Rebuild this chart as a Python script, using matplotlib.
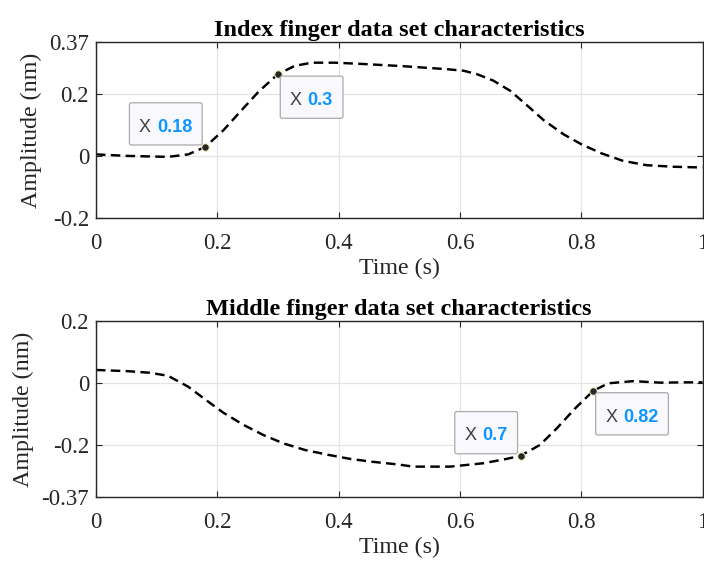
import matplotlib
matplotlib.use("Agg")
import matplotlib.pyplot as plt
from matplotlib.transforms import IdentityTransform
from matplotlib.patches import FancyBboxPatch

# ---------------- data ----------------
t_index = [0.000, 0.053, 0.119, 0.152, 0.180, 0.210, 0.240, 0.268, 0.300, 0.328,
           0.356, 0.394, 0.438, 0.504, 0.578, 0.606, 0.628, 0.655, 0.683, 0.710,
           0.738, 0.771, 0.801, 0.834, 0.869, 0.908, 0.952, 0.990, 1.000]
a_index = [0.006, 0.001, -0.002, 0.006, 0.030, 0.084, 0.149, 0.209, 0.266, 0.293,
           0.303, 0.303, 0.299, 0.292, 0.282, 0.277, 0.266, 0.245, 0.212, 0.166,
           0.117, 0.071, 0.038, 0.009, -0.015, -0.029, -0.034, -0.036, -0.036]

t_middle = [0.000, 0.053, 0.089, 0.119, 0.152, 0.180, 0.210, 0.243, 0.276, 0.309,
            0.344, 0.383, 0.419, 0.454, 0.498, 0.523, 0.584, 0.639, 0.677, 0.700,
            0.732, 0.760, 0.790, 0.820, 0.845, 0.886, 0.930, 0.968, 1.000]
a_middle = [0.041, 0.037, 0.032, 0.022, -0.013, -0.054, -0.097, -0.136, -0.169, -0.196,
            -0.217, -0.233, -0.246, -0.255, -0.264, -0.271, -0.271, -0.260, -0.246, -0.236,
            -0.201, -0.147, -0.083, -0.026, -0.002, 0.005, 0.000, 0.001, 0.001]

tips_index_x = [0.18, 0.30]
tips_index_y = [0.030, 0.266]
tips_index_lbl = ["0.18", "0.3"]
tips_index_side = ["left", "right"]

tips_middle_x = [0.70, 0.82]
tips_middle_y = [-0.236, -0.026]
tips_middle_lbl = ["0.7", "0.82"]
tips_middle_side = ["left", "right"]

xticks = [0, 0.2, 0.4, 0.6, 0.8, 1.0]
xtick_labels = ["0", "0.2", "0.4", "0.6", "0.8", "1"]
yticks_index = [-0.2, 0, 0.2, 0.37]
ytick_labels_index = ["-0.2", "0", "0.2", "0.37"]
yticks_middle = [-0.37, -0.2, 0, 0.2]
ytick_labels_middle = ["-0.37", "-0.2", "0", "0.2"]

titles = ["Index finger data set characteristics", "Middle finger data set characteristics"]
xlabel = "Time (s)"
ylabel = "Amplitude (nm)"

# ---------------- style ----------------
plt.rcParams['font.family'] = ['Liberation Serif', 'DejaVu Serif']
TICKFS = 16.5
LBLFS = 17.3
TFS = 17.5
AXC = '#262626'
TIPFONT = ['Liberation Sans', 'DejaVu Sans']
TIPFS = 13

W, H = 704, 561
fig = plt.figure(figsize=(W / 100, H / 100), dpi=100)
ax1 = fig.add_axes([96 / W, 1 - 218 / H, 606.5 / W, 176 / H])
ax2 = fig.add_axes([96 / W, 1 - 497.3 / H, 606.5 / W, 176.6 / H])


def style(ax, yt, ytl, ylim, title, ylab_x):
    ax.set_xlim(0, 1)
    ax.set_ylim(*ylim)
    ax.set_xticks(xticks)
    ax.set_xticklabels(xtick_labels)
    ax.set_yticks(yt)
    ax.set_yticklabels(ytl)
    ax.tick_params(direction='in', length=4.5, width=0.8, color=AXC,
                   top=True, right=True, labelsize=TICKFS, labelcolor=AXC)
    ax.tick_params(axis='x', pad=10.5)
    ax.tick_params(axis='y', pad=5)
    for s in ax.spines.values():
        s.set_color(AXC)
        s.set_linewidth(1.0)
    ax.grid(True, color='#e4e4e4', linewidth=0.9)
    ax.set_axisbelow(True)
    ax.set_xlabel(xlabel, fontsize=LBLFS, color=AXC, labelpad=3)
    ax.set_ylabel(ylabel, fontsize=LBLFS, color=AXC)
    ax.yaxis.set_label_coords(ylab_x, 0.5)
    ax.set_title(title, fontsize=TFS, fontweight='bold', pad=4)


style(ax1, yticks_index, ytick_labels_index, (-0.2, 0.37), titles[0], -0.089)
style(ax2, yticks_middle, ytick_labels_middle, (-0.37, 0.2), titles[1], -0.103)

for ax, t, a in ((ax1, t_index, a_index), (ax2, t_middle, a_middle)):
    ax.plot(t, a, color='black', linewidth=1.75, dashes=(3.9, 2.2), zorder=2)

for ax, xs, ys in ((ax1, tips_index_x, tips_index_y), (ax2, tips_middle_x, tips_middle_y)):
    ax.plot(xs, ys, linestyle='none', marker='o', markersize=5.5,
            markerfacecolor='#262626', markeredgecolor='#f7f2c4',
            markeredgewidth=0.8, zorder=4)

fig.canvas.draw()
renderer = fig.canvas.get_renderer()


def datatip(ax, x, y, label, side):
    px, py = ax.transData.transform((x, y))
    kw_x = dict(transform=IdentityTransform(), fontsize=TIPFS, family=TIPFONT,
                color='#404040', va='baseline', zorder=7)
    kw_v = dict(transform=IdentityTransform(), fontsize=TIPFS, family=TIPFONT,
                color='#0d96ff', fontweight='bold', va='baseline', zorder=7)
    if side == 'left':
        by = py + 15.3
        tv = fig.text(px - 13, by, label, ha='right', **kw_v)
        bv = tv.get_window_extent(renderer)
        tx = fig.text(bv.x0 - 6, by, "X", ha='right', **kw_x)
        bx = tx.get_window_extent(renderer)
    else:
        by = py - 30.9
        tx = fig.text(px + 11.8, by, "X", ha='left', **kw_x)
        bx = tx.get_window_extent(renderer)
        tv = fig.text(bx.x1 + 6, by, label, ha='left', **kw_v)
        bv = tv.get_window_extent(renderer)
    x0 = min(bx.x0, bv.x0) - 9.5
    x1 = max(bx.x1, bv.x1) + 10
    y0 = by - 13.3
    y1 = by + 28.9
    box = FancyBboxPatch((x0, y0), x1 - x0, y1 - y0,
                         boxstyle='round,pad=0,rounding_size=2',
                         transform=IdentityTransform(), facecolor='#f8f8fd',
                         edgecolor='#ababab', linewidth=0.9, zorder=6)
    fig.add_artist(box)


for ax, xs, ys, ls, ss in ((ax1, tips_index_x, tips_index_y, tips_index_lbl, tips_index_side),
                           (ax2, tips_middle_x, tips_middle_y, tips_middle_lbl, tips_middle_side)):
    for x, y, l, s in zip(xs, ys, ls, ss):
        datatip(ax, x, y, l, s)

fig.savefig("out.png", dpi=100)
